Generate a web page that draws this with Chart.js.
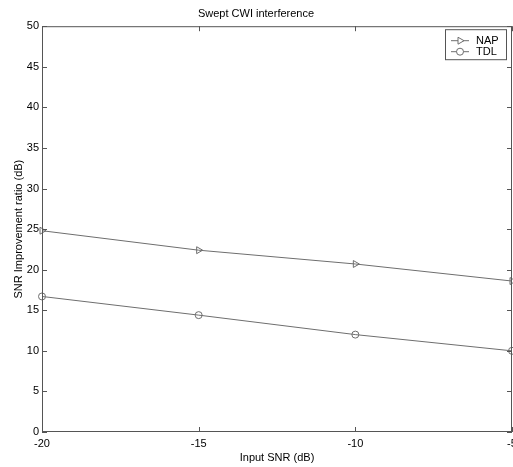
<!DOCTYPE html>
<html>
<head>
<meta charset="utf-8">
<script src="https://cdn.jsdelivr.net/npm/chart.js@4/dist/chart.umd.min.js"></script>
<style>
  html, body { margin: 0; padding: 0; background: #fff; }
  #wrap { width: 513px; height: 467px; }
</style>
</head>
<body>
<div id="wrap"><canvas id="chart"></canvas></div>
<script>
const inputSnr = [-20, -15, -10, -5];
const napValues = [24.8, 22.4, 20.7, 18.6];
const tdlValues = [16.7, 14.4, 12.0, 10.0];
const xTicks = [-20, -15, -10, -5];
const yTicks = [0, 5, 10, 15, 20, 25, 30, 35, 40, 45, 50];

const lineColor = '#6e6e6e';
const axisColor = '#555';
const fontFamily = '"Liberation Sans", Arial, sans-serif';

// box around the plot + inward ticks on all four sides (matlab look)
const boxPlugin = {
    id: 'box',
    afterDraw(chart) {
        const ctx = chart.ctx;
        const a = chart.chartArea;
        const xs = chart.scales.x, ys = chart.scales.y;
        ctx.save();
        ctx.strokeStyle = axisColor;
        ctx.lineWidth = 1;
        ctx.strokeRect(a.left + 0.5, a.top + 0.5, a.right - a.left - 1, a.bottom - a.top - 1);
        ctx.beginPath();
        xTicks.forEach(v => {
            const px = Math.round(xs.getPixelForValue(v)) + 0.5;
            ctx.moveTo(px, a.bottom); ctx.lineTo(px, a.bottom - 5);
            ctx.moveTo(px, a.top); ctx.lineTo(px, a.top + 5);
        });
        yTicks.forEach(v => {
            const py = Math.round(ys.getPixelForValue(v)) + 0.5;
            ctx.moveTo(a.left, py); ctx.lineTo(a.left + 5, py);
            ctx.moveTo(a.right, py); ctx.lineTo(a.right - 5, py);
        });
        ctx.stroke();
        ctx.restore();
    }
};

// legend box in the upper right corner
const legendPlugin = {
    id: 'boxLegend',
    afterDraw(chart) {
        const ctx = chart.ctx;
        const a = chart.chartArea;
        const w = 61, rowH = 11;
        const x0 = a.right - 6 - w, y0 = a.top + 3;
        const h = rowH * chart.data.datasets.length + 8;
        ctx.save();
        ctx.fillStyle = '#fff';
        ctx.fillRect(x0, y0, w, h);
        ctx.strokeStyle = axisColor;
        ctx.lineWidth = 1;
        ctx.strokeRect(x0 + 0.5, y0 + 0.5, w, h);
        ctx.font = '11px ' + fontFamily;
        ctx.textBaseline = 'middle';
        chart.data.datasets.forEach((ds, i) => {
            const cy = y0 + 11 + i * rowH;
            ctx.strokeStyle = lineColor;
            ctx.beginPath();
            ctx.moveTo(x0 + 6, cy + 0.5); ctx.lineTo(x0 + 24, cy + 0.5);
            ctx.stroke();
            ctx.fillStyle = '#fff';
            Chart.helpers.drawPoint(ctx, {
                pointStyle: ds.pointStyle, rotation: ds.pointRotation || 0,
                radius: ds.pointRadius, borderWidth: 1
            }, x0 + 15, cy + 0.5);
            ctx.fillStyle = '#000';
            ctx.fillText(ds.label, x0 + 31, cy + 1);
        });
        ctx.restore();
    }
};

new Chart(document.getElementById('chart'), {
    type: 'line',
    data: {
        labels: inputSnr,
        datasets: [
            {
                label: 'NAP',
                data: inputSnr.map((x, i) => ({ x: x, y: napValues[i] })),
                borderColor: lineColor,
                borderWidth: 1,
                pointStyle: 'triangle',
                pointRotation: 90,
                pointRadius: 4,
                pointBorderColor: lineColor,
                pointBackgroundColor: 'rgba(0,0,0,0)',
                pointBorderWidth: 1,
            },
            {
                label: 'TDL',
                data: inputSnr.map((x, i) => ({ x: x, y: tdlValues[i] })),
                borderColor: lineColor,
                borderWidth: 1,
                pointStyle: 'circle',
                pointRadius: 3.5,
                pointBorderColor: lineColor,
                pointBackgroundColor: 'rgba(0,0,0,0)',
                pointBorderWidth: 1,
            },
        ],
    },
    options: {
        responsive: true,
        maintainAspectRatio: false,
        animation: false,
        clip: false,
        layout: { autoPadding: false, padding: { left: 0, right: 1, top: 0, bottom: 0 } },
        plugins: {
            legend: { display: false },
            tooltip: { enabled: false },
            title: {
                display: true,
                text: 'Swept CWI interference',
                color: '#000',
                font: { family: fontFamily, size: 11, weight: 'normal' },
                padding: { top: 7, bottom: 6 },
            },
        },
        scales: {
            x: {
                type: 'linear',
                min: -20,
                max: -5,
                afterBuildTicks: (s) => { s.ticks = xTicks.map(v => ({ value: v })); },
                afterFit: (s) => { s.paddingLeft = 0; s.paddingRight = 0; s.height = 35; },
                grid: { display: false, drawTicks: false },
                border: { display: false },
                ticks: {
                    color: '#000',
                    padding: 5,
                    maxRotation: 0,
                    font: { family: fontFamily, size: 11 },
                },
                title: {
                    display: true,
                    text: 'Input SNR (dB)',
                    color: '#000',
                    font: { family: fontFamily, size: 11 },
                    padding: { top: 0, bottom: 2 },
                },
            },
            y: {
                min: 0,
                max: 50,
                afterBuildTicks: (s) => { s.ticks = yTicks.map(v => ({ value: v })); },
                afterFit: (s) => { s.paddingTop = 0; s.paddingBottom = 0; s.width = 42; },
                grid: { display: false, drawTicks: false },
                border: { display: false },
                ticks: {
                    color: '#000',
                    padding: 3,
                    font: { family: fontFamily, size: 11 },
                },
                title: {
                    display: true,
                    text: 'SNR Improvement ratio (dB)',
                    color: '#000',
                    font: { family: fontFamily, size: 11 },
                    padding: { top: 12, bottom: 0 },
                },
            },
        },
    },
    plugins: [boxPlugin, legendPlugin],
});
</script>
</body>
</html>
